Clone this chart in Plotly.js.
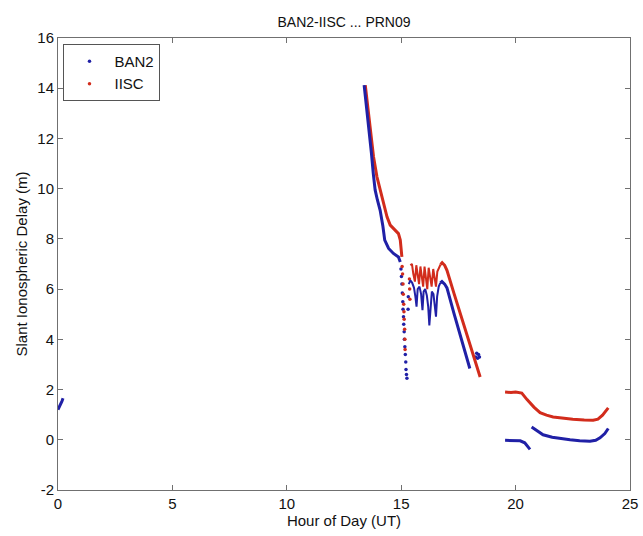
<!DOCTYPE html>
<html>
<head>
<meta charset="utf-8">
<script src="https://cdn.plot.ly/plotly-3.0.1.min.js"></script>
<style>html,body{margin:0;padding:0;background:#fff;}#chart{width:643px;height:536px;}</style>
</head>
<body>
<div id="chart"></div>
<script>
// ---- data ----
const chartTitle = "BAN2-IISC ... PRN09";
const xTickVals = [0, 5, 10, 15, 20, 25];
const yTickVals = [-2, 0, 2, 4, 6, 8, 10, 12, 14, 16];

// BAN2 smooth runs (null separates runs)
const ban2Hours = [0, 0.06, 0.12, 0.17, 0.22, null,
  13.38, 13.5, 13.6, 13.7, 13.78, 13.86, 13.96, 14.08, 14.2, 14.28, 14.45, 14.66, 14.88, 14.96, null,
  16.71, 16.78, 16.9, 17.0, 17.3, 17.6, 18.0, null,
  19.54, 19.8, 20.0, 20.2, 20.4, 20.63, null,
  20.7, 20.9, 21.2, 21.6, 22.0, 22.38, 22.8, 23.25, 23.5, 23.69, 23.9, 24.05];
const ban2Delay = [1.2, 1.3, 1.42, 1.53, 1.65, null,
  14.12, 13.15, 12.4, 11.4, 10.6, 9.95, 9.55, 9.14, 8.5, 7.95, 7.62, 7.42, 7.28, 7.08, null,
  6.25, 6.3, 6.2, 6.05, 5.05, 4.1, 2.84, null,
  -0.02, -0.03, -0.02, -0.04, -0.12, -0.38, null,
  0.51, 0.38, 0.2, 0.1, 0.04, 0.0, -0.04, -0.06, -0.02, 0.08, 0.25, 0.45];
// BAN2 oscillating run
const ban2OscHours = [15.33, 15.4, 15.48, 15.56, 15.62, 15.67, 15.72, 15.8, 15.87, 15.93, 15.98, 16.05, 16.12, 16.18, 16.23, 16.28, 16.34, 16.41, 16.47, 16.52, 16.57, 16.64, 16.71];
const ban2OscDelay = [6.2, 6.35, 6.25, 6.05, 5.7, 5.3, 6.0, 6.1, 5.8, 5.16, 5.9, 6.0, 5.75, 5.3, 4.55, 5.4, 5.9, 5.8, 5.2, 4.9, 5.7, 6.1, 6.25];
// BAN2 sparse points
const ban2DotHours = [14.99, 15.01, 15.03, 15.05, 15.07, 15.08, 15.1, 15.11, 15.13, 15.14, 15.16, 15.18, 15.2, 15.21, 15.23, 15.25, 15.3, 15.31, 18.26, 18.3, 18.34, 18.38, 18.42];
const ban2DotDelay = [6.8, 6.5, 6.2, 5.85, 5.5, 5.2, 4.9, 4.6, 4.3, 4.0, 3.7, 3.4, 3.1, 2.8, 2.6, 2.45, 5.2, 5.7, 3.3, 3.45, 3.25, 3.4, 3.3];

// IISC smooth runs
const iiscHours = [13.43, 13.55, 13.65, 13.79, 13.94, 14.05, 14.26, 14.38, 14.52, 14.74, 14.88, 14.96, 15.03, null,
  16.72, 16.79, 16.9, 17.0, 17.3, 17.6, 18.0, 18.2, 18.45, null,
  19.54, 19.8, 20.0, 20.27, 20.5, 20.8, 21.07, 21.35, 21.64, 22.0, 22.5, 23.0, 23.39, 23.6, 23.8, 24.05];
const iiscDelay = [14.12, 13.2, 12.46, 11.27, 10.47, 10.07, 9.41, 8.88, 8.55, 8.35, 8.21, 7.95, 7.28, null,
  6.98, 7.05, 6.95, 6.75, 5.85, 4.95, 3.8, 3.2, 2.5, null,
  1.9, 1.88, 1.9, 1.86, 1.6, 1.3, 1.08, 0.98, 0.91, 0.86, 0.82, 0.79, 0.78, 0.82, 0.98, 1.27];
// IISC oscillating run
const iiscOscHours = [15.4, 15.47, 15.53, 15.6, 15.66, 15.72, 15.78, 15.84, 15.9, 15.96, 16.02, 16.08, 16.14, 16.2, 16.27, 16.33, 16.4, 16.46, 16.52, 16.58, 16.65, 16.72];
const iiscOscDelay = [6.95, 7.0, 6.6, 6.3, 6.95, 6.6, 6.2, 6.9, 6.5, 6.1, 6.9, 6.5, 6.0, 6.85, 6.4, 6.1, 6.8, 6.45, 6.1, 6.7, 6.85, 6.98];
// IISC sparse points
const iiscDotHours = [15.04, 15.06, 15.08, 15.09, 15.11, 15.12, 15.13, 15.15, 15.16, 15.17, 15.36, 15.37, 15.38];
const iiscDotDelay = [6.9, 6.6, 6.2, 5.8, 5.4, 5.1, 4.8, 4.4, 4.0, 3.6, 6.4, 6.0, 5.6];

const blue = '#2020a6';
const red = '#d22c1c';
const font = 'Liberation Sans, Arial, Helvetica, sans-serif';

const traces = [
  {x: ban2DotHours, y: ban2DotDelay, type: 'scatter', mode: 'markers', name: 'BAN2', legendgroup: 'b',
   marker: {color: blue, size: 3.5}},
  {x: iiscDotHours, y: iiscDotDelay, type: 'scatter', mode: 'markers', name: 'IISC', legendgroup: 'r',
   marker: {color: red, size: 3.5}},
  {x: iiscHours, y: iiscDelay, type: 'scatter', mode: 'lines', showlegend: false, legendgroup: 'r',
   connectgaps: false, line: {color: red, width: 3}},
  {x: iiscOscHours, y: iiscOscDelay, type: 'scatter', mode: 'lines', showlegend: false, legendgroup: 'r',
   line: {color: red, width: 2}},
  {x: ban2Hours, y: ban2Delay, type: 'scatter', mode: 'lines', showlegend: false, legendgroup: 'b',
   connectgaps: false, line: {color: blue, width: 3}},
  {x: ban2OscHours, y: ban2OscDelay, type: 'scatter', mode: 'lines', showlegend: false, legendgroup: 'b',
   line: {color: blue, width: 2}}
];

const axisCommon = {
  showline: true, mirror: 'ticks', linecolor: '#707070', linewidth: 1,
  ticks: 'inside', ticklen: 5, tickcolor: '#707070',
  showgrid: false, zeroline: false,
  tickfont: {family: font, size: 15, color: '#111'}
};

const layout = {
  width: 643, height: 536,
  margin: {l: 58, r: 13, t: 38, b: 46},
  paper_bgcolor: '#fff', plot_bgcolor: '#fff',
  title: {text: chartTitle, font: {family: font, size: 14, color: '#111'},
          x: 0.535, xanchor: 'center', y: 0.958, yanchor: 'middle', yref: 'container'},
  xaxis: Object.assign({}, axisCommon, {
    range: [0, 25], tickvals: xTickVals, ticktext: xTickVals.map(String),
    title: {text: 'Hour of Day (UT)', font: {family: font, size: 15, color: '#111'}, standoff: 4}
  }),
  yaxis: Object.assign({}, axisCommon, {
    range: [-2, 16], tickvals: yTickVals, ticktext: yTickVals.map(String),
    title: {text: 'Slant Ionospheric Delay (m)', font: {family: font, size: 15, color: '#111'}, standoff: 6}
  }),
  showlegend: true,
  legend: {x: 0.0096, y: 0.987, xanchor: 'left', yanchor: 'top',
           bgcolor: '#fff', bordercolor: '#555', borderwidth: 1, itemwidth: 40,
           font: {family: font, size: 15, color: '#111'}, tracegroupgap: 0}
};

Plotly.newPlot('chart', traces, layout, {staticPlot: true, displayModeBar: false});
</script>
</body>
</html>
